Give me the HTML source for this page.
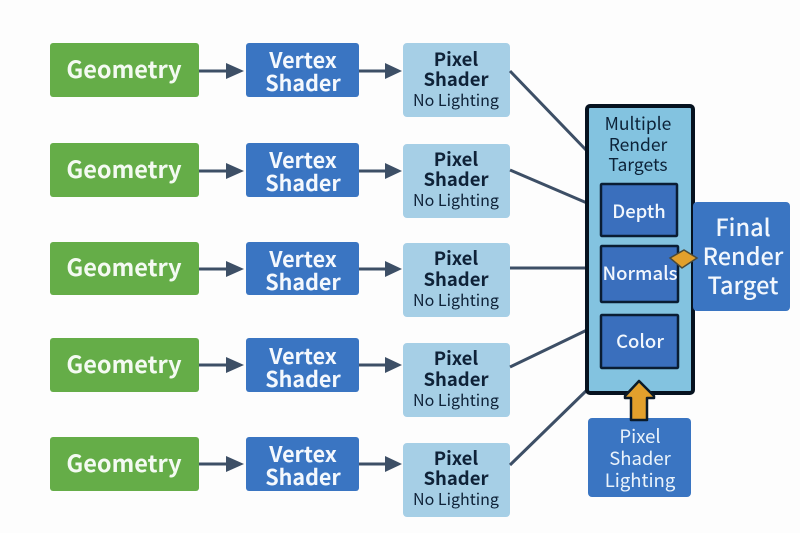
<!DOCTYPE html>
<html><head><meta charset="utf-8"><style>
html,body{margin:0;padding:0;background:#fdfdfd}
svg{display:block}
text{font-family:"Noto Sans CJK SC","Liberation Sans",sans-serif;text-anchor:middle}
.g{fill:#f4faf2;font-size:23.5px;font-weight:700}
.v{fill:#f4f8fd;font-size:21.5px;font-weight:700}
.p{fill:#0f2238;font-size:18.5px;font-weight:700}
.n{fill:#0f2238;font-size:16px;font-weight:400}
.m{fill:#0c2238;font-size:17.5px}
.w{fill:#f2f7fd;font-size:18.5px;font-weight:500}
.f{fill:#f2f7fd;font-size:23.5px;font-weight:500}
.l{fill:#eaf3fb;font-size:18.5px}
</style></head><body>
<svg width="800" height="533" viewBox="0 0 800 533" xmlns="http://www.w3.org/2000/svg">
<rect width="800" height="533" fill="#fdfdfd"/>
<g fill="#65ad48">
<rect x="50" y="43" width="149" height="54" rx="3"/>
<rect x="50" y="143" width="149" height="54" rx="3"/>
<rect x="50" y="242" width="149" height="53" rx="3"/>
<rect x="50" y="338" width="149" height="54" rx="3"/>
<rect x="50" y="437" width="149" height="54" rx="3"/>
</g>
<g fill="#3a75c2">
<rect x="246" y="43" width="113" height="54" rx="3"/>
<rect x="246" y="143" width="113" height="54" rx="3"/>
<rect x="246" y="242" width="113" height="53" rx="3"/>
<rect x="246" y="338" width="113" height="54" rx="3"/>
<rect x="246" y="437" width="113" height="54" rx="3"/>
</g>
<g fill="#a6cfe6">
<rect x="403" y="43" width="107" height="74" rx="4"/>
<rect x="403" y="144" width="107" height="74" rx="4"/>
<rect x="403" y="243" width="107" height="74" rx="4"/>
<rect x="403" y="343" width="107" height="74" rx="4"/>
<rect x="403" y="443" width="107" height="74" rx="4"/>
</g>
<g stroke="#3d4f66" stroke-width="3" fill="none">
<path d="M199 71H228M359 71H386M199 171H228M359 171H386M199 269H228M359 269H386M199 365H228M359 365H386M199 464H228M359 464H386"/>
<path d="M510 71L587 151M510 170L587 203M510 268H587M510 367L587 330M510 465L587 390"/>
</g>
<g fill="#3d4f66">
<path d="M226 63L244 71L226 79ZM385 63L402 71L385 79Z"/>
<path d="M226 163L244 171L226 179ZM385 163L402 171L385 179Z"/>
<path d="M226 261L244 269L226 277ZM385 261L402 269L385 277Z"/>
<path d="M226 357L244 365L226 373ZM385 357L402 365L385 373Z"/>
<path d="M226 456L244 464L226 472ZM385 456L402 464L385 472Z"/>
</g>
<rect x="587" y="106" width="106" height="287" rx="3" fill="#83c3e0" stroke="#06121f" stroke-width="4"/>
<g fill="#3a6fbd" stroke="#0a1d33" stroke-width="2.5">
<rect x="601" y="184" width="76" height="52" rx="1"/>
<rect x="601" y="246" width="77" height="56" rx="1"/>
<rect x="601" y="315" width="77" height="53" rx="1"/>
</g>
<rect x="693" y="202" width="97" height="109" rx="4" fill="#3a75c2"/>
<path d="M670 258L684 250L697 258L682 268Z" fill="#e2a02c" stroke="#4a4a3a" stroke-width="1.5"/>
<rect x="588" y="418" width="103" height="79" rx="4" fill="#3a75c2"/>
<path d="M639 381L654 396V398H647V420H631V398H625V396Z" fill="#e2a02c" stroke="#0a1a28" stroke-width="2.5" stroke-linejoin="round"/>
<text class="g" x="124" y="78">Geometry</text>
<text class="g" x="124" y="178">Geometry</text>
<text class="g" x="124" y="276">Geometry</text>
<text class="g" x="124" y="373">Geometry</text>
<text class="g" x="124" y="472">Geometry</text>
<text class="v" x="303" y="68">Vertex</text><text class="v" x="303" y="91">Shader</text>
<text class="v" x="303" y="168">Vertex</text><text class="v" x="303" y="191">Shader</text>
<text class="v" x="303" y="267">Vertex</text><text class="v" x="303" y="290">Shader</text>
<text class="v" x="303" y="364">Vertex</text><text class="v" x="303" y="387">Shader</text>
<text class="v" x="303" y="462">Vertex</text><text class="v" x="303" y="485">Shader</text>
<text class="p" x="456" y="66">Pixel</text><text class="p" x="456" y="86">Shader</text><text class="n" x="456" y="106">No Lighting</text>
<text class="p" x="456" y="166">Pixel</text><text class="p" x="456" y="186">Shader</text><text class="n" x="456" y="206">No Lighting</text>
<text class="p" x="456" y="265">Pixel</text><text class="p" x="456" y="286">Shader</text><text class="n" x="456" y="306">No Lighting</text>
<text class="p" x="456" y="365">Pixel</text><text class="p" x="456" y="386">Shader</text><text class="n" x="456" y="406">No Lighting</text>
<text class="p" x="456" y="465">Pixel</text><text class="p" x="456" y="485">Shader</text><text class="n" x="456" y="505">No Lighting</text>
<text class="m" x="638" y="130">Multiple</text>
<text class="m" x="638" y="151">Render</text>
<text class="m" x="638" y="171">Targets</text>
<text class="w" x="639" y="218">Depth</text>
<text class="w" x="640" y="280">Normals</text>
<text class="w" x="640" y="348">Color</text>
<text class="f" x="743" y="236">Final</text>
<text class="f" x="743" y="265">Render</text>
<text class="f" x="743" y="294">Target</text>
<text class="l" x="640" y="443">Pixel</text>
<text class="l" x="640" y="465">Shader</text>
<text class="l" x="640" y="487">Lighting</text>
</svg>
</body></html>
